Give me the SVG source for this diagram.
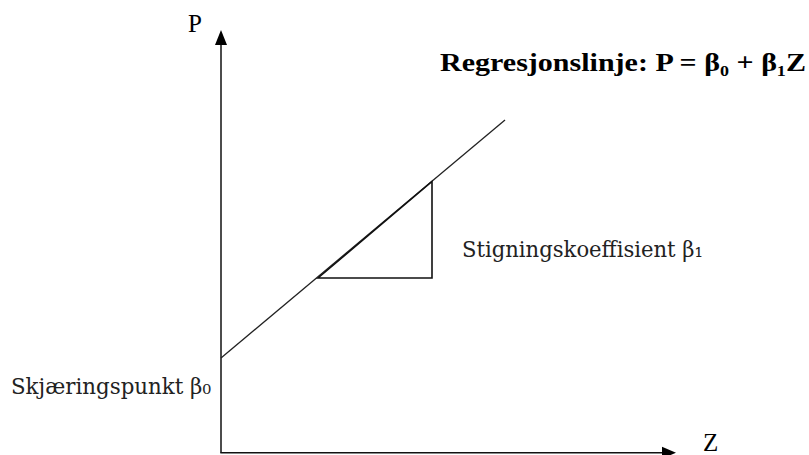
<svg xmlns="http://www.w3.org/2000/svg" width="809" height="455" viewBox="0 0 809 455">
  <defs>
    <style>
      .ax { stroke: #111; stroke-width: 1.5; fill: none; }
      .ln { stroke: #222; stroke-width: 1.3; fill: none; }
      .tri { stroke: #111; stroke-width: 1.6; fill: none; stroke-linejoin: miter; }
      .tnr { font-family: "Liberation Serif", "Times New Roman", serif; fill: #000; }
      .cam { font-family: "DejaVu Serif", "Liberation Serif", serif; fill: #222; font-size: 23px; }
    </style>
  </defs>
  <rect width="809" height="455" fill="#fff"/>
  <g id="axes">
    <line class="ax" x1="221" y1="452.7" x2="221" y2="42"/>
    <line class="ax" x1="220.3" y1="452.7" x2="664" y2="452.7"/>
    <polygon points="221,30 215,45 227,45" fill="#000"/>
    <polygon points="676,452.7 662,446.7 662,458.7" fill="#000"/>
    <text class="tnr" x="188" y="32" font-size="25">P</text>
    <text class="tnr" x="703" y="451" font-size="25">Z</text>
  </g>
  <g id="regression-line">
    <line class="ln" x1="221" y1="358" x2="505" y2="120"/>
  </g>
  <g id="slope-triangle">
    <polygon class="tri" points="318,278 432,181.5 432,278"/>
  </g>
  <g id="labels">
    <text class="tnr" x="440" y="71" font-size="26" font-weight="bold" textLength="366" lengthAdjust="spacingAndGlyphs">Regresjonslinje: P = β₀ + β₁Z</text>
    <text class="cam" x="462" y="257" textLength="241" lengthAdjust="spacingAndGlyphs">Stigningskoeffisient β₁</text>
    <text class="cam" x="11" y="394" textLength="200" lengthAdjust="spacingAndGlyphs">Skjæringspunkt β₀</text>
  </g>
</svg>
